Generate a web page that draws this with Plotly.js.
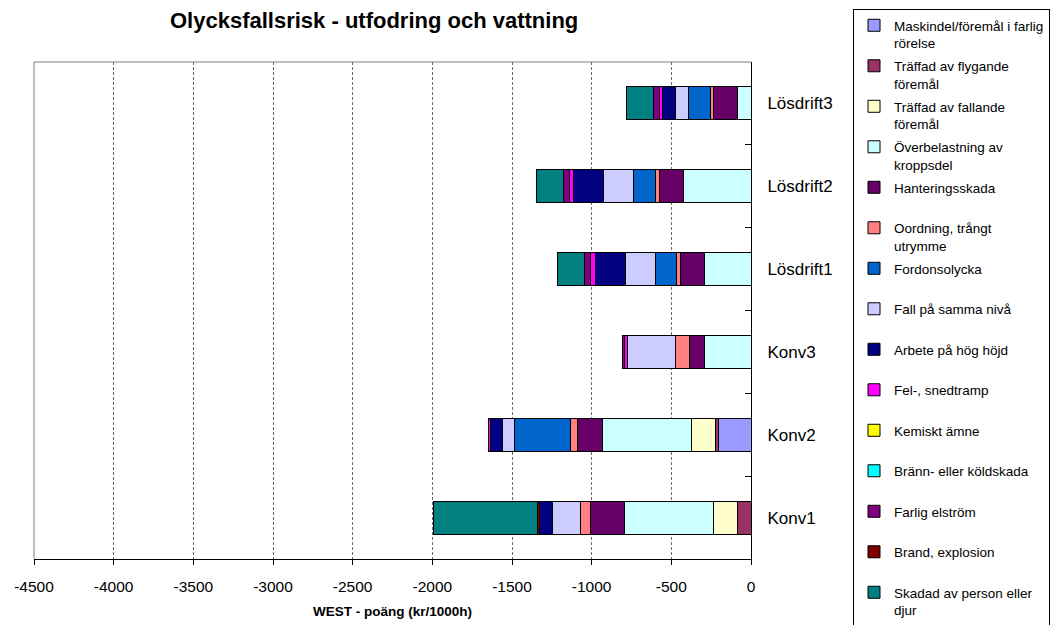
<!DOCTYPE html>
<html>
<head>
<meta charset="utf-8">
<script src="https://cdn.plot.ly/plotly-3.0.1.min.js"></script>
<style>html,body{margin:0;padding:0;background:#fff;}#chart{width:1051px;height:625px;}</style>
</head>
<body>
<div id="chart"></div>
<script>
// Categories (bottom to top)
const categories = ['Konv1', 'Konv2', 'Konv3', 'Lösdrift1', 'Lösdrift2', 'Lösdrift3'];

// Series values (WEST-poäng, kr/1000h), one value per category
const maskindel        = [0, -205, 0, 0, 0, 0];
const traffadFlygande  = [-85, -16, 0, 0, 0, 0];
const traffadFallande  = [-151, -155, 0, 0, 0, 0];
const overbelastning   = [-560, -557, -289, -293, -425, -83];
const hanteringsskada  = [-213, -157, -94, -148, -151, -153];
const oordning         = [-58, -46, -88, -25, -21, -21];
const fordonsolycka    = [0, -350, 0, -136, -138, -136];
const fallSammaNiva    = [-178, -75, -306, -186, -188, -83];
const arbeteHogHojd    = [-82, -77, 0, -188, -188, -82];
const felSnedtramp     = [0, -11, -19, -33, -31, -17];
const kemisktAmne      = [0, 0, 0, 0, 0, 0];
const brannKoldskada   = [0, 0, 0, 0, 0, 0];
const farligElstrom    = [0, 0, -8, -36, -36, -38];
const brandExplosion   = [-10, 0, 0, 0, 0, 0];
const skadadPerson     = [-655, 0, 0, -169, -167, -167];

// Series names (legend labels)
const seriesNames = [
  'Maskindel/föremål i farlig<br>rörelse',
  'Träffad av flygande<br>föremål',
  'Träffad av fallande<br>föremål',
  'Överbelastning av<br>kroppsdel',
  'Hanteringsskada<br>\u00a0',
  'Oordning, trångt<br>utrymme',
  'Fordonsolycka<br>\u00a0',
  'Fall på samma nivå<br>\u00a0',
  'Arbete på hög höjd<br>\u00a0',
  'Fel-, snedtramp<br>\u00a0',
  'Kemiskt ämne<br>\u00a0',
  'Bränn- eller köldskada<br>\u00a0',
  'Farlig elström<br>\u00a0',
  'Brand, explosion<br>\u00a0',
  'Skadad av person eller<br>djur'
];
const seriesValues = [maskindel, traffadFlygande, traffadFallande, overbelastning,
  hanteringsskada, oordning, fordonsolycka, fallSammaNiva, arbeteHogHojd, felSnedtramp,
  kemisktAmne, brannKoldskada, farligElstrom, brandExplosion, skadadPerson];

// X tick labels
const xTickVals = [-4500, -4000, -3500, -3000, -2500, -2000, -1500, -1000, -500, 0];
const xTickText = ['-4500', '-4000', '-3500', '-3000', '-2500', '-2000', '-1500', '-1000', '-500', '0'];

const colors = ['#9999FF', '#993366', '#FFFFCC', '#CCFFFF', '#660066', '#FF8080', '#0066CC',
  '#CCCCFF', '#000080', '#FF00FF', '#FFFF00', '#00FFFF', '#800080', '#800000', '#008080'];

const FONT = 'Liberation Sans, Arial, sans-serif';

const traces = seriesValues.map((vals, i) => ({
  type: 'bar',
  orientation: 'h',
  name: seriesNames[i],
  legendgroup: 'g' + i,
  x: vals,
  y: categories,
  marker: { color: colors[i], line: { color: '#000000', width: 1 } },
  hoverinfo: 'x+name'
}));

const layout = {
  width: 1051,
  height: 625,
  margin: { l: 34, r: 300, t: 62, b: 66, pad: 0 },
  paper_bgcolor: '#ffffff',
  plot_bgcolor: '#ffffff',
  font: { family: FONT, color: '#000000', size: 14 },
  barmode: 'stack',
  bargap: 0.6,
  title: {
    text: '<b>Olycksfallsrisk - utfodring och vattning</b>',
    font: { family: FONT, size: 22, color: '#000000' },
    x: 0.356, xref: 'container', xanchor: 'center',
    y: 0.968, yref: 'container', yanchor: 'middle'
  },
  xaxis: {
    range: [-4500, 0],
    tickvals: xTickVals,
    ticktext: xTickText,
    ticks: 'outside',
    ticklen: 5,
    tickcolor: '#000000',
    ticklabelstandoff: 8,
    tickfont: { family: FONT, size: 15.5, color: '#000000' },
    showline: true,
    linecolor: '#000000',
    linewidth: 1,
    showgrid: true,
    gridcolor: '#6a6a6a',
    gridwidth: 1,
    griddash: '3px,2px',
    zeroline: false,
    fixedrange: true,
    title: {
      text: '<b>WEST - poäng (kr/1000h)</b>',
      font: { family: FONT, size: 13.5, color: '#000000' },
      standoff: 12
    }
  },
  yaxis: {
    type: 'category',
    categoryorder: 'array',
    categoryarray: categories,
    side: 'right',
    ticks: 'inside',
    tickson: 'boundaries',
    ticklen: 6,
    tickcolor: '#000000',
    ticklabelstandoff: 12,
    tickfont: { family: FONT, size: 17, color: '#000000' },
    showline: true,
    linecolor: '#000000',
    linewidth: 1,
    showgrid: false,
    zeroline: false,
    fixedrange: true
  },
  showlegend: true,
  legend: {
    xref: 'container', yref: 'container',
    x: 853 / 1051, xanchor: 'left',
    y: 1 - 9 / 625, yanchor: 'top',
    maxheight: 620,
    bordercolor: '#000000',
    borderwidth: 1,
    bgcolor: '#ffffff',
    traceorder: 'grouped',
    tracegroupgap: 2.4,
    valign: 'top',
    font: { family: FONT, size: 13.5, color: '#000000' }
  },
  shapes: [
    { type: 'line', xref: 'paper', yref: 'paper', x0: 0, x1: 0, y0: 0, y1: 1,
      line: { color: '#808080', width: 1 } },
    { type: 'line', xref: 'paper', yref: 'paper', x0: 0, x1: 1, y0: 1, y1: 1,
      line: { color: '#808080', width: 1 } }
  ]
};

Plotly.newPlot('chart', traces, layout, { displayModeBar: false, staticPlot: true });
</script>
</body>
</html>
